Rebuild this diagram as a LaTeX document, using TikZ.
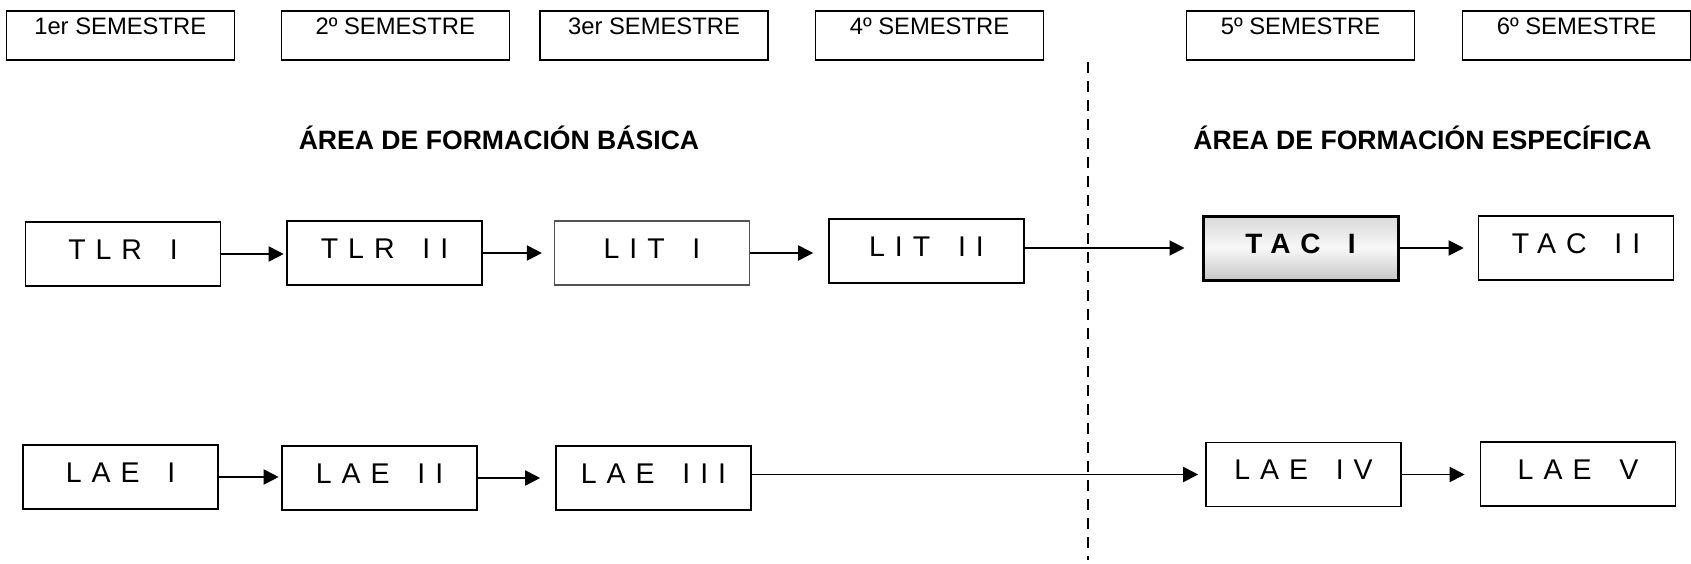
\documentclass[tikz,border=0pt]{standalone}
\usepackage{fontspec}
\setmainfont{Liberation Sans}
\newfontfamily\coursefont[LetterSpace=35,WordSpace=1.55]{Liberation Sans}
\usetikzlibrary{arrows.meta}

\tikzset{
  semester/.style={draw=black, line width=1.4pt, minimum width=228pt,
    text height=24pt, text depth=25pt, inner sep=0pt,
    font=\fontsize{23.8}{28}\selectfont},
  areatitle/.style={inner sep=0pt, anchor=base,
    font=\fontsize{26.6}{32}\selectfont\bfseries},
  course/.style={draw=black, line width=1.6pt, minimum width=195pt,
    text height=37pt, text depth=27pt, inner sep=0pt,
    font=\coursefont\fontsize{28.5}{34}\selectfont},
  softcourse/.style={course, draw=black!68, line width=1.2pt},
  keycourse/.style={course, line width=3pt,
    top color=black!15, bottom color=black!22, middle color=white!97!black,
    font=\coursefont\bfseries\fontsize{28}{34}\selectfont},
  link/.style={line width=1.9pt, -{Triangle[length=15pt,width=15pt]}},
  divider/.style={line width=2.4pt, dash pattern=on 11pt off 8pt}
}

\begin{document}
\begin{tikzpicture}[x=1pt, y=-1pt]
  \useasboundingbox (0,0) rectangle (1691,564);

  % semester headers
  \node[semester] (s1) at (120.25,35.5) {1er SEMESTRE};
  \node[semester] (s2) at (395.25,35.5) {2º SEMESTRE};
  \node[semester] (s3) at (654,35.5)    {3er SEMESTRE};
  \node[semester] (s4) at (929.5,35.5)  {4º SEMESTRE};
  \node[semester] (s5) at (1300.5,35.5) {5º SEMESTRE};
  \node[semester] (s6) at (1576.5,35.5) {6º SEMESTRE};

  % area titles
  \node[areatitle] (basica) at (499,149.5) {ÁREA DE FORMACIÓN BÁSICA};
  \node[areatitle] (especifica) at (1422.5,149.5) {ÁREA DE FORMACIÓN ESPECÍFICA};

  % boundary between the two areas
  \coordinate (divtop) at (1088,62);
  \coordinate (divbot) at (1088,560);
  \draw[divider] (divtop) -- (divbot);

  % first row of courses
  \node[course]     (tlr1) at (123,254)    {TLR I};
  \node[course]     (tlr2) at (384.5,253)  {TLR II};
  \node[softcourse] (lit1) at (652,253)    {LIT I};
  \node[course]     (lit2) at (926.5,251)  {LIT II};
  \node[keycourse]  (tac1) at (1300.5,248) {TAC I};
  \node[course]     (tac2) at (1576,248)   {TAC II};

  % second row of courses
  \node[course] (lae1) at (120.5,477)  {LAE I};
  \node[course] (lae2) at (379.5,478)  {LAE II};
  \node[course] (lae3) at (653.5,478)  {LAE III};
  \node[course] (lae4) at (1303.5,474.5) {LAE IV};
  \node[course] (lae5) at (1578,474)   {LAE V};

  % sequences
  \draw[link, shorten >=2.5pt] (tlr1.east) -- (tlr1.east -| tlr2.west);
  \draw[link, shorten >=12pt]  (tlr2.east) -- (tlr2.east -| lit1.west);
  \draw[link, shorten >=15pt]  (lit1.east) -- (lit1.east -| lit2.west);
  \draw[link, shorten >=17pt]  (lit2.east |- tac1.west) -- (tac1.west);
  \draw[link, shorten >=14pt]  (tac1.east) -- (tac1.east -| tac2.west);

  \draw[link, shorten >=2.5pt] (lae1.east) -- (lae1.east -| lae2.west);
  \draw[link, shorten >=15pt]  (lae2.east) -- (lae2.east -| lae3.west);
  \draw[link, shorten >=7pt]   (lae3.east |- lae4.west) -- (lae4.west);
  \draw[link, shorten >=15pt]  (lae4.east) -- (lae4.east -| lae5.west);
\end{tikzpicture}
\end{document}
